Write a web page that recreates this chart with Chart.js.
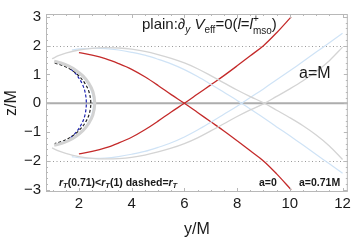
<!DOCTYPE html>
<html>
<head>
<meta charset="utf-8">
<script src="https://cdn.jsdelivr.net/npm/chart.js@4.4.1/dist/chart.umd.min.js"></script>
<style>
html,body{margin:0;padding:0;background:#fff}
canvas{display:block}
</style>
</head>
<body>
<canvas id="myChart" width="354" height="241"></canvas>
<script>
// tick labels
var xTicks = [2, 4, 6, 8, 10, 12];
var zTicks = [-3, -2, -1, 0, 1, 2, 3];

// a=0 (red), two branches
var redY     = [2, 2.5, 3, 3.5, 4, 4.5, 5, 5.5, 6, 6.5, 7, 7.5, 8, 8.5, 9, 9.5, 10.05];
var redDown  = [1.76, 1.67, 1.55, 1.38, 1.18, 0.92, 0.62, 0.3, 0, -0.32, -0.64, -0.96, -1.3, -1.65, -2.0, -2.45, -3.0];
var redUp    = [-1.76, -1.67, -1.55, -1.38, -1.18, -0.92, -0.62, -0.3, 0, 0.32, 0.64, 0.96, 1.3, 1.65, 2.0, 2.45, 3.0];

// a=0.71M (light blue)
var blueY    = [1.73, 2, 2.5, 3, 3.5, 4, 4.5, 5, 5.5, 6, 6.5, 7, 7.5, 8, 8.5, 9, 9.5, 10, 10.5, 11, 11.5, 12];
var blueDown = [1.85, 1.89, 1.91, 1.9, 1.85, 1.77, 1.67, 1.53, 1.37, 1.17, 0.93, 0.66, 0.38, 0.1, -0.2, -0.5, -0.82, -1.13, -1.45, -1.78, -2.1, -2.43];
var blueUp   = [-1.85, -1.89, -1.91, -1.9, -1.85, -1.77, -1.67, -1.53, -1.37, -1.17, -0.93, -0.66, -0.38, -0.1, 0.2, 0.5, 0.82, 1.13, 1.45, 1.78, 2.1, 2.43];

// a=M (gray)
var grayY    = [0.98, 1.25, 1.5, 2, 2.5, 3, 3.5, 4, 4.5, 5, 5.5, 6, 6.5, 7, 7.5, 8, 8.5, 9, 9.5, 10, 10.5, 11, 11.5, 12];
var grayDown = [1.55, 1.66, 1.74, 1.85, 1.91, 1.93, 1.92, 1.88, 1.8, 1.69, 1.56, 1.4, 1.2, 0.96, 0.71, 0.46, 0.23, 0.02, -0.24, -0.5, -0.78, -1.1, -1.48, -1.95];
var grayUp   = [-1.55, -1.66, -1.74, -1.85, -1.91, -1.93, -1.92, -1.88, -1.8, -1.69, -1.56, -1.4, -1.2, -0.96, -0.71, -0.46, -0.23, -0.02, 0.24, 0.5, 0.78, 1.1, 1.48, 1.95];

// r_T crescents near the hole
var arcGrayY  = [1.06, 1.32, 1.6, 1.88, 2.15, 2.37, 2.53, 2.6, 2.53, 2.37, 2.15, 1.88, 1.6, 1.32, 1.06];
var arcGrayZ  = [1.46, 1.4, 1.3, 1.15, 0.95, 0.7, 0.4, 0, -0.4, -0.7, -0.95, -1.15, -1.3, -1.4, -1.46];
var arcBlueY  = [1.14, 1.54, 1.83, 2.1, 2.32, 2.48, 2.55, 2.48, 2.32, 2.1, 1.83, 1.54, 1.14];
var arcBlueZ  = [1.42, 1.3, 1.15, 0.95, 0.7, 0.4, 0, -0.4, -0.7, -0.95, -1.15, -1.3, -1.42];
var dashKY    = [1.08, 1.42, 1.73, 2.0, 2.22, 2.38, 2.45, 2.38, 2.22, 2.0, 1.73, 1.42, 1.08];
var dashKZ    = [1.4, 1.3, 1.15, 0.95, 0.7, 0.4, 0, -0.4, -0.7, -0.95, -1.15, -1.3, -1.4];
var dashBY    = [1.69, 1.9, 2.11, 2.23, 2.28, 2.23, 2.11, 1.9, 1.69];
var dashBZ    = [1.19, 1.0, 0.7, 0.4, 0, -0.4, -0.7, -1.0, -1.19];

function pts(xs, zs){
  return xs.map(function(x, i){ return {x: x, y: zs[i]}; });
}

function line(data, color, w, dash){
  return {data: data, showLine: true, borderColor: color, borderWidth: w,
    borderDash: dash || [], pointRadius: 0, tension: 0.35, fill: false};
}

var FONT = '"Liberation Sans", Arial, sans-serif';

// draws a row of text pieces: [text, font, dy] (or stacked sup/sub)
function runText(ctx, x, y, parts){
  parts.forEach(function(p){
    ctx.font = p[1];
    if (p[3]) {
      ctx.fillText(p[0], x, y + p[2]);
      var w1 = ctx.measureText(p[0]).width;
      ctx.font = p[4];
      ctx.fillText(p[3], x, y + p[5]);
      x += Math.max(w1, ctx.measureText(p[3]).width);
    } else {
      ctx.fillText(p[0], x, y + p[2]);
      x += ctx.measureText(p[0]).width;
    }
  });
}

var framePlugin = {
  id: 'framePlugin',
  beforeDatasetsDraw: function(chart){
    var ctx = chart.ctx, a = chart.chartArea, ys = chart.scales.y;
    ctx.save();
    ctx.strokeStyle = '#9a9a9a';
    ctx.lineWidth = 1;
    ctx.setLineDash([1, 2.5]);
    [2, -2].forEach(function(v){
      var p = Math.round(ys.getPixelForValue(v)) + 0.5;
      ctx.beginPath(); ctx.moveTo(a.left, p); ctx.lineTo(a.right, p); ctx.stroke();
    });
    ctx.setLineDash([]);
    ctx.strokeStyle = '#adadad';
    ctx.lineWidth = 2;
    var p0 = ys.getPixelForValue(0);
    ctx.beginPath(); ctx.moveTo(a.left, p0); ctx.lineTo(a.right, p0); ctx.stroke();
    ctx.restore();
  },
  afterDatasetsDraw: function(chart){
    var ctx = chart.ctx, a = chart.chartArea, xs = chart.scales.x, ys = chart.scales.y;
    ctx.save();
    ctx.strokeStyle = '#b8b8b8';
    ctx.lineWidth = 1;
    ctx.strokeRect(a.left + 0.5, a.top + 0.5, a.right - a.left - 1, a.bottom - a.top - 1);
    var v, p, len;
    for (v = 1; v <= 12.001; v += 0.5) {
      p = Math.round(xs.getPixelForValue(v)) + 0.5;
      len = (Math.abs(v % 2) < 0.01) ? 4 : 2;
      ctx.beginPath();
      ctx.moveTo(p, a.bottom); ctx.lineTo(p, a.bottom - len);
      ctx.moveTo(p, a.top); ctx.lineTo(p, a.top + len);
      ctx.stroke();
    }
    for (v = -3; v <= 3.001; v += 0.2) {
      p = Math.round(ys.getPixelForValue(v)) + 0.5;
      len = (Math.abs(v - Math.round(v)) < 0.01) ? 4 : 2;
      ctx.beginPath();
      ctx.moveTo(a.left, p); ctx.lineTo(a.left + len, p);
      ctx.moveTo(a.right, p); ctx.lineTo(a.right - len, p);
      ctx.stroke();
    }
    ctx.restore();
  },
  afterDraw: function(chart){
    var ctx = chart.ctx;
    ctx.save();
    ctx.fillStyle = '#1a1a1a';
    ctx.textBaseline = 'alphabetic';
    ctx.textAlign = 'left';
    var N = '15px ' + FONT, I = 'italic 15px ' + FONT, S = '10px ' + FONT, SI = 'italic 10px ' + FONT;
    runText(ctx, 142, 29, [
      ['plain:', N, 0], ['\u2202', N, 0], ['y', SI, 4], [' ', N, 0], ['V', I, 0], ['eff', S, 4],
      ['=0(', N, 0], ['l', I, 0], ['=', N, 0], ['l', I, 0], ['+', S, -7, 'mso', S, 5], [')', N, 0]
    ]);
    ctx.font = '16px ' + FONT;
    ctx.fillText('a=M', 299, 78);
    var B = 'bold 10.5px ' + FONT, BI = 'bold italic 10.5px ' + FONT, BS = 'bold italic 7.5px ' + FONT;
    runText(ctx, 59, 186, [
      ['r', BI, 0], ['T', BS, 2], ['(0.71)<', B, 0], ['r', BI, 0], ['T', BS, 2],
      ['(1) dashed=', B, 0], ['r', BI, 0], ['T', BS, 2]
    ]);
    ctx.font = B;
    ctx.fillText('a=0', 259, 186);
    ctx.fillText('a=0.71M', 299, 186);
    ctx.restore();
  }
};

const config = {
  type: 'scatter',
  data: {
    datasets: [
      line(pts(arcGrayY, arcGrayZ), '#d2d2d2', 3),
      line(pts(grayY, grayDown), '#d4d4d4', 1.3),
      line(pts(grayY, grayUp), '#d4d4d4', 1.3),
      line(pts(arcBlueY, arcBlueZ), '#cfe3f6', 1),
      line(pts(blueY, blueDown), '#cfe3f6', 1.2),
      line(pts(blueY, blueUp), '#cfe3f6', 1.2),
      line(pts(redY, redDown), '#c42a2a', 1.3),
      line(pts(redY, redUp), '#c42a2a', 1.3),
      line(pts(dashKY, dashKZ), '#222222', 1.2, [3, 2]),
      line(pts(dashBY, dashBZ), '#1c22b0', 1.2, [3, 2])
    ]
  },
  options: {
    responsive: false,
    animation: false,
    devicePixelRatio: 1,
    layout: {padding: {top: 5, right: 6, bottom: 0, left: 0}},
    plugins: {legend: {display: false}, tooltip: {enabled: false}},
    scales: {
      x: {
        type: 'linear', min: 0.75, max: 12.2,
        afterFit: function(s){ s.height = 49; },
        afterBuildTicks: function(s){ s.ticks = xTicks.map(function(v){ return {value: v}; }); },
        grid: {display: false, drawTicks: false},
        border: {display: false},
        ticks: {color: '#1a1a1a', padding: 3, maxRotation: 0, font: {size: 15, family: FONT}},
        title: {display: true, text: 'y/M', color: '#1a1a1a', padding: {top: 0, bottom: 2}, font: {size: 16, family: FONT}}
      },
      y: {
        type: 'linear', min: -3.08, max: 3.1,
        afterFit: function(s){ s.width = 46; },
        afterBuildTicks: function(s){ s.ticks = zTicks.map(function(v){ return {value: v}; }); },
        grid: {display: false, drawTicks: false},
        border: {display: false},
        ticks: {color: '#1a1a1a', padding: 5, font: {size: 15, family: FONT},
          callback: function(v){ return String(v).replace('-', '\u2212'); }},
        title: {display: true, text: 'z/M', color: '#1a1a1a', padding: {top: 2, bottom: 0}, font: {size: 16, family: FONT}}
      }
    }
  },
  plugins: [framePlugin]
};

const myChart = new Chart(document.getElementById('myChart'), config);
</script>
</body>
</html>
